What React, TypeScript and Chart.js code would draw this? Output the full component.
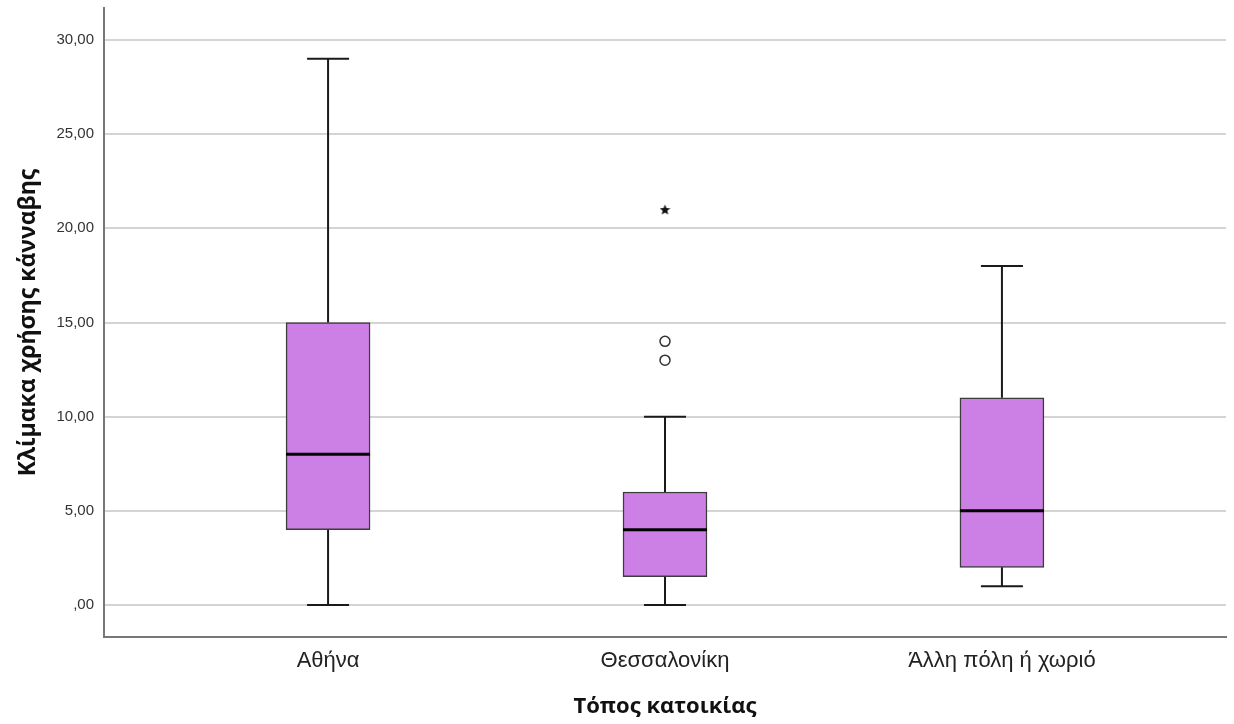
import React, { useEffect, useRef } from "react";
import { Chart, registerables } from "chart.js";

Chart.register(...registerables);

const categories = ["Αθήνα", "Θεσσαλονίκη", "Άλλη πόλη ή χωριό"];
const whiskerLow = [0, 0, 1];
const q1 = [4, 1.5, 2];
const medians = [8, 4, 5];
const q3 = [15, 6, 11];
const whiskerHigh = [29, 10, 18];
const outlierCategory = [1, 1];
const outlierValues = [13, 14];
const extremeCategory = [1];
const extremeValues = [21];
const yTickValues = [0, 5, 10, 15, 20, 25, 30];

const yTitle = "Κλίμακα χρήσης κάνναβης";
const xTitle = "Τόπος κατοικίας";

function makeStar(size: number) {
  const c = document.createElement("canvas");
  c.width = size;
  c.height = size;
  const g = c.getContext("2d")!;
  const cx = size / 2, cy = size / 2 + 0.5, R = size / 2, r = R * 0.45;
  g.beginPath();
  for (let k = 0; k < 10; k++) {
    const ang = -Math.PI / 2 + (k * Math.PI) / 5;
    const rad = k % 2 === 0 ? R : r;
    g.lineTo(cx + rad * Math.cos(ang), cy + rad * Math.sin(ang));
  }
  g.closePath();
  g.fillStyle = "#111";
  g.fill();
  return c;
}

const boxPlugin = {
  id: "boxWhiskers",
  afterDatasetsDraw(chart: any) {
    const ctx = chart.ctx;
    const y = chart.scales.y;
    const meta = chart.getDatasetMeta(0);
    ctx.save();
    meta.data.forEach((bar: any, i: number) => {
      const { x, width } = bar.getProps(["x", "width"], true);
      const pLow = y.getPixelForValue(whiskerLow[i]);
      const pQ1 = y.getPixelForValue(q1[i]);
      const pMed = y.getPixelForValue(medians[i]);
      const pQ3 = y.getPixelForValue(q3[i]);
      const pHigh = y.getPixelForValue(whiskerHigh[i]);
      const cap = width / 4;
      ctx.strokeStyle = "#1a1a1a";
      ctx.lineWidth = 2;
      ctx.beginPath();
      ctx.moveTo(x, pQ3);
      ctx.lineTo(x, pHigh);
      ctx.moveTo(x - cap, pHigh);
      ctx.lineTo(x + cap, pHigh);
      if (pLow > pQ1 + 0.5) {
        ctx.moveTo(x, pQ1);
        ctx.lineTo(x, pLow);
      }
      ctx.moveTo(x - cap, pLow);
      ctx.lineTo(x + cap, pLow);
      ctx.stroke();
      ctx.strokeStyle = "#000";
      ctx.lineWidth = 3;
      ctx.beginPath();
      ctx.moveTo(x - width / 2, pMed);
      ctx.lineTo(x + width / 2, pMed);
      ctx.stroke();
    });
    ctx.restore();
  },
};

export default function App() {
  const ref = useRef<HTMLCanvasElement>(null);
  useEffect(() => {
    if (!ref.current) return;
    const star = makeStar(11);
    const chart = new Chart(ref.current, {
      type: "bar",
      data: {
        datasets: [
          {
            type: "bar",
            data: categories.map((_, i) => ({ x: i, y: [q1[i], q3[i]] })) as any,
            backgroundColor: "#cc7fe5",
            borderColor: "#3c3c3c",
            borderWidth: 1.5,
            borderSkipped: false,
            barThickness: 84,
          },
          {
            type: "scatter",
            data: outlierValues.map((v, i) => ({ x: outlierCategory[i], y: v })),
            pointStyle: "circle",
            pointRadius: 5,
            pointBackgroundColor: "#ffffff",
            pointBorderColor: "#333333",
            pointBorderWidth: 1.5,
          } as any,
          {
            type: "scatter",
            data: extremeValues.map((v, i) => ({ x: extremeCategory[i], y: v })),
            pointStyle: star,
            pointRadius: 6,
          } as any,
        ],
      },
      options: {
        responsive: false,
        animation: false,
        devicePixelRatio: 1,
        layout: { padding: { top: 8, right: 8, left: 0, bottom: 0 } },
        plugins: { legend: { display: false }, tooltip: { enabled: false } },
        scales: {
          x: {
            type: "linear",
            offset: false,
            min: -0.665,
            max: 2.665,
            afterBuildTicks: (s: any) => {
              s.ticks = categories.map((_, i) => ({ value: i }));
            },
            afterFit: (s: any) => {
              s.height = 87;
              s.paddingLeft = 0;
              s.paddingRight = 0;
            },
            grid: { display: false, drawTicks: false },
            border: { display: true, color: "#777777", width: 2 },
            ticks: {
              autoSkip: false,
              maxRotation: 0,
              padding: 11,
              color: "#222222",
              font: { family: "'Liberation Sans', Arial, sans-serif", size: 22 },
              callback: (v: any) => categories[v] ?? "",
            },
            title: {
              display: true,
              text: xTitle,
              color: "#111111",
              font: { family: "'Open Sans', sans-serif", size: 22, weight: "bold", lineHeight: 1 },
              padding: { top: 0, bottom: 6 },
            },
          },
          y: {
            type: "linear",
            min: -1.7,
            max: 31.7,
            afterBuildTicks: (s: any) => {
              s.ticks = yTickValues.map((v) => ({ value: v }));
            },
            afterFit: (s: any) => {
              s.width = 104;
              s.paddingTop = 0;
              s.paddingBottom = 0;
            },
            grid: { color: "#d4d4d4", lineWidth: 2, drawTicks: false },
            border: { display: true, color: "#777777", width: 2 },
            ticks: {
              padding: 10,
              color: "#333333",
              font: { family: "'Liberation Sans', Arial, sans-serif", size: 15 },
              callback: (v: any) => (v === 0 ? ",00" : Number(v).toFixed(2).replace(".", ",")),
            },
            title: {
              display: true,
              text: yTitle,
              color: "#111111",
              font: { family: "'Open Sans', sans-serif", size: 23, weight: "bold", lineHeight: 1 },
              padding: { top: 16.5, bottom: 0 },
            },
          },
        },
      },
      plugins: [boxPlugin],
    });
    return () => chart.destroy();
  }, []);
  return (
    <div style={{ position: "absolute", left: 0, top: 0, width: 1234, height: 724, background: "#fff" }}>
      <canvas ref={ref} width={1234} height={724} style={{ width: 1234, height: 724, display: "block" }} />
    </div>
  );
}
